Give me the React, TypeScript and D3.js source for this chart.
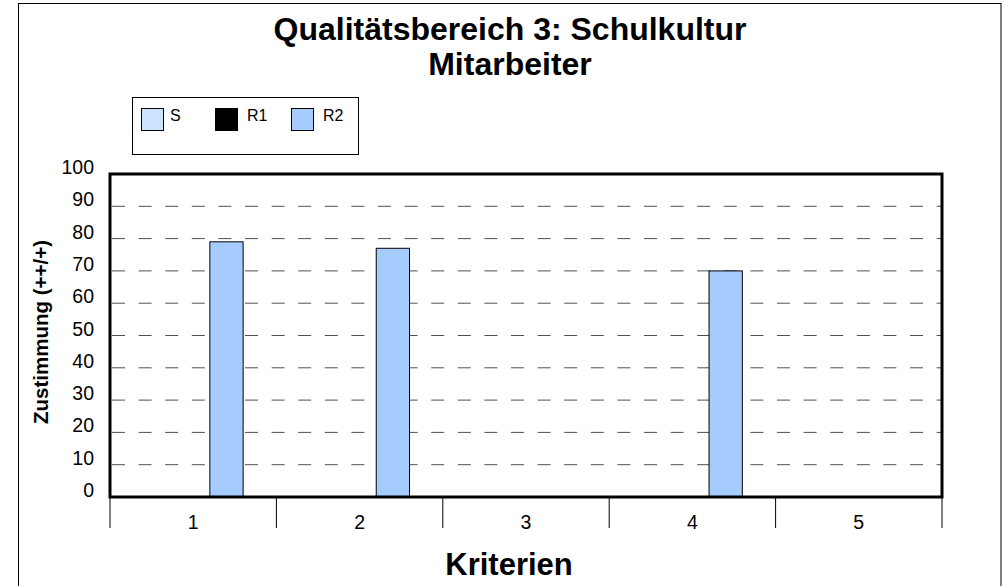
import React from "react";
import * as d3 from "d3";

const categories = ["1", "2", "3", "4", "5"];
const seriesNames = ["S", "R1", "R2"];
const seriesS = [0, 0, 0, 0, 0];
const seriesR1 = [0, 0, 0, 0, 0];
const seriesR2 = [79, 77, 0, 70, 0];
const yTicks = [0, 10, 20, 30, 40, 50, 60, 70, 80, 90, 100];
const seriesColors = ["#CCE4FF", "#000000", "#A6CBFF"];

const W = 1003;
const H = 586;
const plot = { left: 110, right: 942, top: 174, bottom: 497 };
const FONT = "Liberation Sans, Arial, Helvetica, sans-serif";

export default function App() {
  const allSeries = [seriesS, seriesR1, seriesR2];
  const x = d3.scaleBand<string>().domain(categories).range([plot.left, plot.right]).padding(0);
  const bw = x.bandwidth() / 5;
  const y = d3.scaleLinear().domain([0, 100]).range([plot.bottom, plot.top]);
  const bounds = [plot.left, ...categories.map((c) => (x(c) as number) + x.bandwidth())];
  const legendSwatchX = [141, 215, 291];
  const legendTextX = [170, 247, 323];

  return (
    <svg width={W} height={H} style={{ position: "absolute", left: 0, top: 0, background: "#fff" }}>
      <rect x={18.5} y={3.5} width={982.5} height={H + 10} fill="none" stroke="#000" strokeWidth={1} />
      <text x={510} y={40} textAnchor="middle" fontFamily={FONT} fontWeight="bold" fontSize={32}>
        Qualitätsbereich 3: Schulkultur
      </text>
      <text x={510} y={75} textAnchor="middle" fontFamily={FONT} fontWeight="bold" fontSize={32}>
        Mitarbeiter
      </text>
      {/* legend */}
      <rect x={132.5} y={97.5} width={226} height={57} fill="#fff" stroke="#000" strokeWidth={1} />
      {seriesNames.map((n, i) => (
        <g key={n}>
          <rect x={legendSwatchX[i] + 0.5} y={108.5} width={22} height={22} fill={seriesColors[i]} stroke="#000" strokeWidth={1} />
          <text x={legendTextX[i]} y={120.5} fontFamily={FONT} fontSize={16}>
            {n}
          </text>
        </g>
      ))}
      {/* grid */}
      {yTicks
        .filter((t) => t > 0 && t < 100)
        .map((t) => (
          <line
            key={t}
            x1={plot.left}
            x2={plot.right}
            y1={y(t)}
            y2={y(t)}
            stroke="#505050"
            strokeWidth={1}
            strokeDasharray="13,13.6"
            strokeDashoffset={-2}
          />
        ))}
      {/* bars */}
      {allSeries.map((vals, si) =>
        vals.map((v, ci) =>
          v > 0 ? (
            <rect
              key={si + "-" + ci}
              x={(x(categories[ci]) as number) + bw * (1 + si)}
              y={y(v)}
              width={bw}
              height={y(0) - y(v)}
              fill={seriesColors[si]}
              stroke="#000"
              strokeWidth={1}
            />
          ) : null
        )
      )}
      <rect x={plot.left} y={plot.top} width={plot.right - plot.left} height={plot.bottom - plot.top} fill="none" stroke="#000" strokeWidth={3} />
      {/* y labels */}
      {yTicks.map((t) => (
        <text key={t} x={94} y={y(t)} textAnchor="end" fontFamily={FONT} fontSize={19.5}>
          {t}
        </text>
      ))}
      {/* x ticks */}
      {bounds.map((b, i) => (
        <line key={i} x1={b} x2={b} y1={plot.bottom} y2={528} stroke="#000" strokeWidth={1} />
      ))}
      {categories.map((c) => (
        <text key={c} x={(x(c) as number) + x.bandwidth() / 2} y={529} textAnchor="middle" fontFamily={FONT} fontSize={19.5}>
          {c}
        </text>
      ))}
      <text x={509} y={575} textAnchor="middle" fontFamily={FONT} fontWeight="bold" fontSize={31}>
        Kriterien
      </text>
      <text transform={`translate(48,332) rotate(-90)`} textAnchor="middle" fontFamily={FONT} fontWeight="bold" fontSize={20.5}>
        Zustimmung (++/+)
      </text>
    </svg>
  );
}
